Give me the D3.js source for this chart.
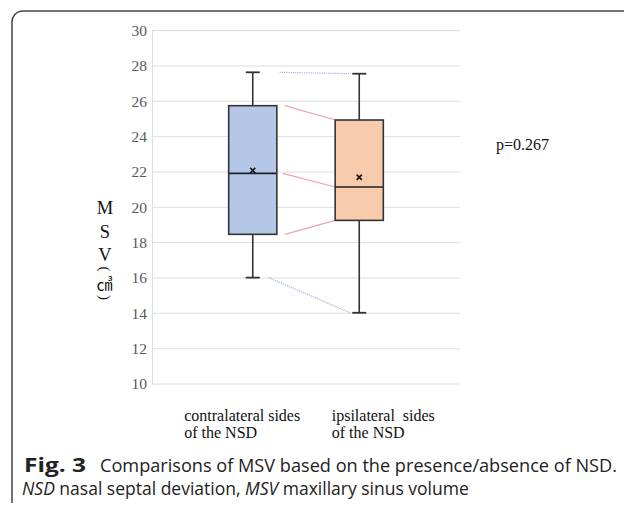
<!DOCTYPE html>
<html>
<head>
<meta charset="utf-8">
<script src="https://cdn.jsdelivr.net/npm/d3@7"></script>
<style>
  body { margin: 0; background: #fff; }
  svg { display: block; }
</style>
</head>
<body>
<svg id="chart"></svg>
<script>
// values
const groups = ["contralateral", "ipsilateral"];
const groupLabels = [["contralateral sides", "of the NSD"], ["ipsilateral  sides", "of the NSD"]];
const maxV = [27.64, 27.56];
const q3V = [25.75, 24.94];
const medianV = [21.92, 21.15];
const meanV = [22.09, 21.70];
const q1V = [18.47, 19.26];
const minV = [16.02, 14.03];
const boxColors = ["#b4c7e7", "#f8cbad"];
const yTicks = [10, 12, 14, 16, 18, 20, 22, 24, 26, 28, 30];
const yTitle = ["M", "S", "V"];
const pText = "p=0.267";

const width = 624, height = 506;
const svg = d3.select("#chart").attr("width", width).attr("height", height);

// frame
svg.append("path")
    .attr("d", "M12,503 V23 A11,11 0 0 1 23,11 H624")
    .attr("fill", "none")
    .attr("stroke", "#444")
    .attr("stroke-width", 1.5);

const plotLeft = 152, plotRight = 460;

let y = d3.scaleLinear()
    .domain([10, 30])
    .range([384, 30.6]);

let x = d3.scaleBand()
    .domain(groups)
    .range([plotLeft, plotRight])
    .paddingInner(0.548)
    .paddingOuter(0.72);

// grid
svg.append("g")
    .selectAll("line")
    .data(yTicks)
    .join("line")
    .attr("x1", plotLeft)
    .attr("x2", plotRight)
    .attr("y1", d => y(d))
    .attr("y2", d => y(d))
    .attr("stroke", "#dedede")
    .attr("stroke-width", 1);

let yAxis = svg.append("g")
    .attr("transform", `translate(${plotLeft},0)`)
    .call(d3.axisLeft(y).tickValues(yTicks).tickSize(0).tickPadding(5));
yAxis.select(".domain").attr("stroke", "#dedede");
yAxis.selectAll("text")
    .attr("font-family", "'Liberation Serif', 'Times New Roman', serif")
    .attr("font-size", 15.5)
    .attr("fill", "#595959");

// y title, stacked vertically (MSV（㎤）)
let titleG = svg.append("g")
    .attr("font-family", "'Liberation Serif', 'Times New Roman', serif")
    .attr("font-size", 18.5)
    .attr("fill", "#111")
    .attr("text-anchor", "middle");
titleG.selectAll("text.letter")
    .data(yTitle)
    .join("text")
    .attr("class", "letter")
    .attr("x", 105)
    .attr("y", (d, i) => 214 + i * 23.5)
    .text(d => d);
// parentheses turned as in vertical writing
[["(", 269], [")", 297.5]].forEach(([ch, cy]) => {
    titleG.append("text")
        .attr("x", 104.5).attr("y", cy)
        .attr("font-size", 15)
        .attr("dominant-baseline", "central")
        .attr("transform", `rotate(90,104.5,${cy})`)
        .text(ch);
});
titleG.append("text")
    .attr("x", 104.5).attr("y", 290)
    .attr("font-family", "'Noto Sans CJK JP', sans-serif")
    .attr("font-size", 16)
    .text("㎤");

// connector lines between the two boxes
const c0 = x(groups[0]) + x.bandwidth() / 2;
const c1 = x(groups[1]) + x.bandwidth() / 2;
const bw = x.bandwidth();
let links = [
    {a: maxV[0], b: maxV[1], x1: c0 + 27, x2: c1 - 9, color: "#9db4de", dash: "1.2,1"},
    {a: q3V[0], b: q3V[1], x1: c0 + bw / 2 + 8, x2: c1 - bw / 2, color: "#eea2ad", dash: null},
    {a: medianV[0], b: medianV[1], x1: c0 + bw / 2 + 6, x2: c1 - bw / 2, color: "#eea2ad", dash: null},
    {a: q1V[0], b: q1V[1], x1: c0 + bw / 2 + 8, x2: c1 - bw / 2, color: "#eea2ad", dash: null},
    {a: minV[0], b: minV[1], x1: c0 + 16, x2: c1 - 9, color: "#9db4de", dash: "1.2,1"}
];
svg.append("g")
    .selectAll("line")
    .data(links)
    .join("line")
    .attr("x1", d => d.x1)
    .attr("x2", d => d.x2)
    .attr("y1", d => y(d.a))
    .attr("y2", d => y(d.b))
    .attr("stroke", d => d.color)
    .attr("stroke-width", 1.2)
    .attr("stroke-dasharray", d => d.dash);

// boxes
const capW = 14;
let boxes = svg.append("g")
    .selectAll("g")
    .data(groups)
    .join("g");

boxes.append("line")
    .attr("x1", d => x(d) + bw / 2)
    .attr("x2", d => x(d) + bw / 2)
    .attr("y1", (d, i) => y(maxV[i]))
    .attr("y2", (d, i) => y(minV[i]))
    .attr("stroke", "#333")
    .attr("stroke-width", 1.6);
boxes.append("line")
    .attr("x1", d => x(d) + bw / 2 - capW / 2)
    .attr("x2", d => x(d) + bw / 2 + capW / 2)
    .attr("y1", (d, i) => y(maxV[i]))
    .attr("y2", (d, i) => y(maxV[i]))
    .attr("stroke", "#333")
    .attr("stroke-width", 1.8);
boxes.append("line")
    .attr("x1", d => x(d) + bw / 2 - capW / 2)
    .attr("x2", d => x(d) + bw / 2 + capW / 2)
    .attr("y1", (d, i) => y(minV[i]))
    .attr("y2", (d, i) => y(minV[i]))
    .attr("stroke", "#333")
    .attr("stroke-width", 1.8);
boxes.append("rect")
    .attr("x", d => x(d))
    .attr("width", bw)
    .attr("y", (d, i) => y(q3V[i]))
    .attr("height", (d, i) => y(q1V[i]) - y(q3V[i]))
    .attr("fill", (d, i) => boxColors[i])
    .attr("stroke", "#333")
    .attr("stroke-width", 1.6);
boxes.append("line")
    .attr("x1", d => x(d))
    .attr("x2", d => x(d) + bw)
    .attr("y1", (d, i) => y(medianV[i]))
    .attr("y2", (d, i) => y(medianV[i]))
    .attr("stroke", "#222")
    .attr("stroke-width", 1.6);
// mean marker
boxes.append("path")
    .attr("d", (d, i) => {
        let cx = x(d) + bw / 2, cy = y(meanV[i]), r = 2.6;
        return `M${cx - r},${cy - r}L${cx + r},${cy + r}M${cx - r},${cy + r}L${cx + r},${cy - r}`;
    })
    .attr("stroke", "#111")
    .attr("stroke-width", 1.6);

// category labels, left aligned; offsets from box centres
const labelShift = [-68.5, -27.5];
let catG = svg.append("g")
    .attr("font-family", "'Liberation Serif', 'Times New Roman', serif")
    .attr("font-size", 16)
    .attr("fill", "#111");
groups.forEach((g, i) => {
    let lx = x(g) + bw / 2 + labelShift[i];
    let t = catG.append("text")
        .attr("x", lx)
        .attr("y", 421)
        .attr("xml:space", "preserve");
    t.selectAll("tspan")
        .data(groupLabels[i])
        .join("tspan")
        .attr("x", lx)
        .attr("dy", (d, j) => j === 0 ? 0 : 17)
        .text(d => d);
});

svg.append("text")
    .attr("x", 496)
    .attr("y", 150)
    .attr("font-family", "'Liberation Serif', 'Times New Roman', serif")
    .attr("font-size", 16)
    .attr("fill", "#111")
    .text(pText);

// caption
let cap = svg.append("g")
    .attr("font-family", "'Open Sans', 'Noto Sans', sans-serif")
    .attr("font-size", 18)
    .attr("fill", "#222");
cap.append("text")
    .attr("x", 24).attr("y", 472)
    .attr("font-weight", "bold")
    .attr("font-size", 19)
    .attr("textLength", 62)
    .attr("lengthAdjust", "spacingAndGlyphs")
    .text("Fig. 3");
cap.append("text")
    .attr("x", 100).attr("y", 472)
    .attr("textLength", 517)
    .attr("lengthAdjust", "spacingAndGlyphs")
    .text("Comparisons of MSV based on the presence/absence of NSD.");
let l2 = cap.append("text").attr("x", 22).attr("y", 495)
    .attr("font-size", 17.5);
l2.append("tspan").attr("font-style", "italic").text("NSD");
l2.append("tspan").text(" nasal septal deviation, ");
l2.append("tspan").attr("font-style", "italic").text("MSV");
l2.append("tspan").text(" maxillary sinus volume");
</script>
</body>
</html>
